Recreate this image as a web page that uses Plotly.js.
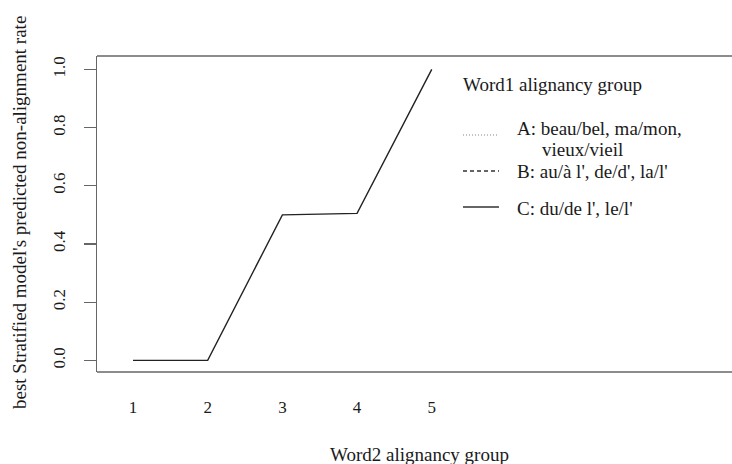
<!DOCTYPE html>
<html>
<head>
<meta charset="utf-8">
<script src="https://cdn.plot.ly/plotly-3.0.1.min.js"></script>
<style>html,body{margin:0;padding:0;overflow:hidden;background:#fff;}</style>
</head>
<body>
<div id="chart" style="width:732px;height:464px;"></div>
<script>
// Data
const word2Groups = [1, 2, 3, 4, 5];
const groupC = [0.0, 0.0, 0.5, 0.505, 1.0];
const xTickLabels = ["1", "2", "3", "4", "5"];
const yTickVals = [0, 0.2, 0.4, 0.6, 0.8, 1.0];
const yTickLabels = ["0.0", "0.2", "0.4", "0.6", "0.8", "1.0"];
const legendTitle = "Word1 alignancy group";
const legendLabels = ["A: beau/bel, ma/mon,", "B: au/à l', de/d', la/l'", "C: du/de l', le/l'"];
const legendLabelA2 = "vieux/vieil";

const font = "Liberation Serif, Times New Roman, serif";
const boxColor = "#666";
const textColor = "#1a1a1a";

const traces = [{
  x: word2Groups, y: groupC, type: "scatter", mode: "lines",
  line: {color: "#222", width: 1.4}, showlegend: false, hoverinfo: "skip"
}];

const L = 97, T = 56, W = 732 - 97, H = 372 - 56;
const px = v => (v - L) / W;
const py = v => 1 - (v - T) / H;

const legendRows = [135, 171, 207];
const dashes = ["1px,2px", "4px,3px", "solid"];
const lineColors = ["#888", "#333", "#333"];

const shapes = [
  {type: "line", xref: "paper", yref: "paper", x0: 0, x1: 1.01, y0: 1, y1: 1, line: {color: boxColor, width: 1.3}},
  {type: "line", xref: "paper", yref: "paper", x0: 0, x1: 1.01, y0: 0, y1: 0, line: {color: boxColor, width: 1.3}}
];
legendRows.forEach((r, i) => {
  shapes.push({type: "line", xref: "paper", yref: "paper", x0: px(463), x1: px(499), y0: py(r), y1: py(r),
    line: {color: lineColors[i], width: i === 0 ? 1 : 1.3, dash: dashes[i]}});
});

const lf = {family: font, size: 19, color: textColor};
const annotations = [
  {text: legendTitle, xref: "paper", yref: "paper", x: px(461), y: py(84), xanchor: "left", yanchor: "middle", showarrow: false, font: lf},
  {text: legendLabels[0], xref: "paper", yref: "paper", x: px(515), y: py(128), xanchor: "left", yanchor: "middle", showarrow: false, font: lf},
  {text: legendLabelA2, xref: "paper", yref: "paper", x: px(540), y: py(149), xanchor: "left", yanchor: "middle", showarrow: false, font: lf},
  {text: legendLabels[1], xref: "paper", yref: "paper", x: px(515), y: py(171), xanchor: "left", yanchor: "middle", showarrow: false, font: lf},
  {text: legendLabels[2], xref: "paper", yref: "paper", x: px(515), y: py(208), xanchor: "left", yanchor: "middle", showarrow: false, font: lf},
  {text: "Word2 alignancy group", xref: "paper", yref: "paper", x: px(328), y: py(454), xanchor: "left", yanchor: "middle", showarrow: false, font: lf},
  {text: "best Stratified model's predicted non-alignment rate", xref: "paper", yref: "paper", x: px(19), y: py(213), xanchor: "center", yanchor: "middle", textangle: -90, showarrow: false, font: {family: font, size: 19, color: textColor}}
];

const layout = {
  width: 732, height: 464,
  margin: {l: 97, r: 0, t: 56, b: 92, pad: 0},
  paper_bgcolor: "#fff", plot_bgcolor: "#fff",
  showlegend: false,
  xaxis: {
    range: [0.518, 9.02], tickvals: word2Groups, ticktext: xTickLabels,
    showgrid: false, zeroline: false, showline: false, ticks: "",
    ticklabelstandoff: 23,
    tickfont: {family: font, size: 17, color: textColor}
  },
  yaxis: {
    range: [-0.04, 1.046], tickvals: yTickVals, ticktext: yTickLabels,
    showgrid: false, zeroline: false, showline: true, linecolor: boxColor, linewidth: 1.3,
    ticks: "outside", ticklen: 12, tickcolor: boxColor, tickwidth: 1.3, tickangle: -90,
    ticklabelstandoff: 12,
    tickfont: {family: font, size: 17, color: textColor}
  },
  shapes: shapes,
  annotations: annotations
};

Plotly.newPlot("chart", traces, layout, {displayModeBar: false, staticPlot: true});
</script>
</body>
</html>
